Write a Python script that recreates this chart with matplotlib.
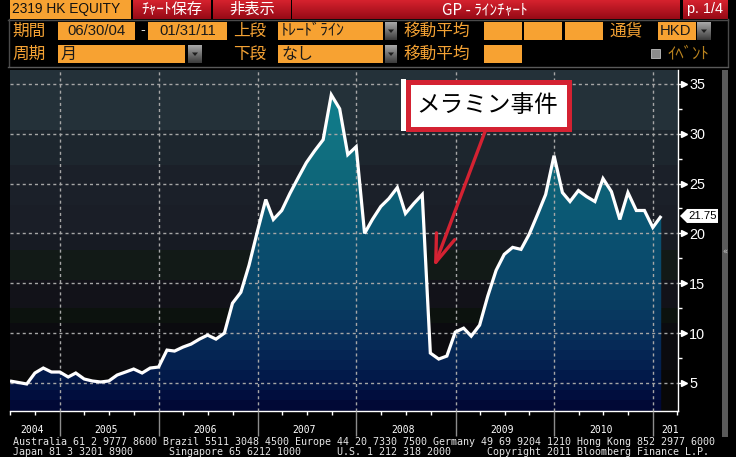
import numpy as np
import pandas as pd
import matplotlib
matplotlib.use('Agg')
import matplotlib.pyplot as plt
import matplotlib.dates as mdates
from matplotlib.patches import Rectangle, Polygon
from matplotlib.colors import to_rgb
from matplotlib import font_manager as fm
from matplotlib import transforms as mtrans

# ---------------- data ----------------
start_date = '2004-06-30'
end_date = '2011-01-31'
prices = [5.2, 5.05, 4.9, 6.0, 6.5, 6.1, 6.1, 5.6, 6.0, 5.4,
          5.2, 5.1, 5.2, 5.8, 6.1, 6.4, 6.0, 6.5, 6.6, 8.3,
          8.2, 8.6, 8.9, 9.4, 9.8, 9.4, 10.0, 13.0, 14.1, 16.8,
          20.2, 23.4, 21.4, 22.3, 24.0, 25.6, 27.1, 28.3, 29.4, 33.9,
          32.5, 27.9, 28.7, 20.0, 21.4, 22.7, 23.5, 24.6, 22.0, 23.0,
          23.9, 8.0, 7.4, 7.7, 10.1, 10.5, 9.7, 10.8, 13.7, 16.3,
          17.9, 18.6, 18.4, 19.9, 21.9, 23.9, 27.8, 24.1, 23.2, 24.3,
          23.7, 23.2, 25.5, 24.2, 21.4, 24.1, 22.3, 22.3, 20.6, 21.75]
years = [2004, 2005, 2006, 2007, 2008, 2009, 2010, 2011]
year_labels = ['2004', '2005', '2006', '2007', '2008', '2009', '2010', '201']
y_ticks = [5, 10, 15, 20, 25, 30, 35]
y_minor = [7.5, 12.5, 17.5, 22.5, 27.5, 32.5]
last_label = '21.75'
callout_text = 'メラミン事件'

ticker = '2319 HK EQUITY'
btn_save = 'ﾁｬｰﾄ保存'
btn_hide = '非表示'
title = 'GP - ﾗｲﾝﾁｬｰﾄ'
page = 'p. 1/4'
date_from = '06/30/04'
date_to = '01/31/11'
upper_val = 'ﾄﾚｰﾄﾞﾗｲﾝ'
lower_val = 'なし'
period_val = '月'
currency = 'HKD'
footer1 = 'Australia 61 2 9777 8600 Brazil 5511 3048 4500 Europe 44 20 7330 7500 Germany 49 69 9204 1210 Hong Kong 852 2977 6000'
footer2 = 'Japan 81 3 3201 8900      Singapore 65 6212 1000      U.S. 1 212 318 2000      Copyright 2011 Bloomberg Finance L.P.'

# ---------------- fonts ----------------
def has_font(name):
    try:
        fm.findfont(fm.FontProperties(family=name), fallback_to_default=False)
        return True
    except Exception:
        return False

if has_font('Liberation Sans Narrow'):
    NARROW, NS = 'Liberation Sans Narrow', 1.0
else:
    NARROW, NS = 'Liberation Sans', 0.86
JP = ['Noto Sans CJK JP', 'DejaVu Sans']
MONO = 'DejaVu Sans Mono'

W, H = 736, 457
ORANGE = '#f7a232'
OTXT = '#f4a234'
RED = '#d42232'

fig = plt.figure(figsize=(W / 100, H / 100), dpi=100, facecolor='black')

# background overlay (pixel coords, y down)
bg = fig.add_axes([0, 0, 1, 1], zorder=0)
bg.set_facecolor('black')
bg.axis('off')

def rect(a, x0, y0, x1, y1, color, z=1, **kw):
    a.add_patch(Rectangle((x0, y0), x1 - x0, y1 - y0, facecolor=color,
                          edgecolor=kw.pop('ec', 'none'), zorder=z, **kw))

def grad(a, x0, y0, x1, y1, c_top, c_bot, z=1):
    t = np.linspace(0, 1, 40)[:, None, None]
    ct = np.array(to_rgb(c_top))[None, None, :]
    cb = np.array(to_rgb(c_bot))[None, None, :]
    img = ct * (1 - t) + cb * t
    img = np.repeat(img, 2, axis=1)
    a.imshow(img, extent=[x0, x1, y1, y0], aspect='auto', origin='upper',
             interpolation='bilinear', zorder=z)

# ---- top bar ----
rect(bg, 10, 0, 131, 18.5, ORANGE)
bg.text(12, 9.5, ticker, family=NARROW, size=11.5 * NS, color='#111111',
        va='center', ha='left', zorder=3)
for (x0, x1) in [(133, 211), (213, 291), (292, 680), (683, 728)]:
    grad(bg, x0, 0, x1, 19, '#d6222e', '#960a16')
bg.text(172, 9.5, btn_save, family=JP, size=11, color='white', va='center', ha='center', zorder=3)
bg.text(252, 9.5, btn_hide, family=JP, size=11, color='white', va='center', ha='center', zorder=3)
bg.text(485, 9.5, title, family=JP, size=11, color='white', va='center', ha='center', zorder=3)
bg.text(705, 9.5, page, family=NARROW, size=12 * NS, color='white', va='center', ha='center', zorder=3)

# ---- control panel frame ----
fc = '#4a4a4a'
bg.plot([8.5, 8.5], [19, 66], color=fc, lw=1, zorder=2)
bg.plot([727.5, 727.5], [19, 66], color=fc, lw=1, zorder=2)
bg.plot([8, 728], [19.5, 19.5], color=fc, lw=1, zorder=2)
bg.plot([8, 728], [66.5, 66.5], color='#5a5a5a', lw=1, zorder=2)

def label(x, y, s, color=OTXT, size=12):
    bg.text(x, y, s, family=JP, size=size, color=color, va='center', ha='left', zorder=3)

def dropdown(x0, y0, x1, y1):
    grad(bg, x0, y0, x1, y1, '#a8a8a8', '#3c3c3c', z=2)
    cx, cy = (x0 + x1) / 2, (y0 + y1) / 2
    bg.add_patch(Polygon([(cx - 3, cy - 1.5), (cx + 3, cy - 1.5), (cx, cy + 2)],
                         closed=True, facecolor='#1e1e1e', edgecolor='none', zorder=3))

r1 = (22, 40)
r2 = (45, 63)
c1 = 31
c2 = 54
label(12, c1, '期間')
rect(bg, 58, r1[0], 135, r1[1], ORANGE)
bg.text(96.5, c1, date_from, family=NARROW, size=12.5 * NS, color='#1a1a1a', va='center', ha='center', zorder=3)
bg.text(143, c1 - 1, '-', family=NARROW, size=12 * NS, color='#dddddd', va='center', ha='center', zorder=3)
rect(bg, 148, r1[0], 227, r1[1], ORANGE)
bg.text(187.5, c1, date_to, family=NARROW, size=12.5 * NS, color='#1a1a1a', va='center', ha='center', zorder=3)
label(233, c1, '上段')
rect(bg, 278, r1[0], 383, r1[1], ORANGE)
bg.text(281, c1, upper_val, family=JP, size=11.5, color='#1a1a1a', va='center', ha='left', zorder=3)
dropdown(385, r1[0], 397, r1[1])
label(403, c1, '移動平均')
for (x0, x1) in [(484, 522), (524, 562), (565, 603)]:
    rect(bg, x0, r1[0], x1, r1[1], ORANGE)
label(610, c1, '通貨')
rect(bg, 658, r1[0], 696, r1[1], ORANGE)
bg.text(660, c1, currency, family=NARROW, size=12.5 * NS, color='#1a1a1a', va='center', ha='left', zorder=3)
dropdown(697, r1[0], 711, r1[1])

label(12, c2, '周期')
rect(bg, 58, r2[0], 185, r2[1], ORANGE)
bg.text(61, c2, period_val, family=JP, size=11.5, color='#1a1a1a', va='center', ha='left', zorder=3)
dropdown(188, r2[0], 202, r2[1])
label(233, c2, '下段')
rect(bg, 278, r2[0], 383, r2[1], ORANGE)
bg.text(281, c2, lower_val, family=JP, size=11.5, color='#1a1a1a', va='center', ha='left', zorder=3)
dropdown(385, r2[0], 397, r2[1])
label(403, c2, '移動平均')
rect(bg, 484, r2[0], 522, r2[1], ORANGE)
rect(bg, 651, 49, 660, 58, '#8c8c8c', ec='#b0b0b0', lw=0.7)
label(667, c2, 'ｲﾍﾞﾝﾄ', color='#b8821e', size=12)

# ---- scrollbar & footer ----
rect(bg, 722, 70, 728, 437, '#5a5a5a')
bg.text(725, 252, '«', family='DejaVu Sans', size=6, color='#c8c8c8', va='center', ha='center', zorder=3)
bg.text(13, 442, footer1, family=MONO, size=7.2, color='#e6e6e6', va='center', ha='left', zorder=3)
bg.text(13, 452, footer2, family=MONO, size=7.2, color='#e6e6e6', va='center', ha='left', zorder=3)

bg.set_xlim(0, W)
bg.set_ylim(H, 0)

# ---------------- main chart ----------------
AX_L, AX_R, AX_T, AX_B = 10, 678, 70, 411
ax = fig.add_axes([AX_L / W, (H - AX_B) / H, (AX_R - AX_L) / W, (AX_B - AX_T) / H], zorder=2)
dates = pd.date_range(start_date, end_date, freq='ME')
xnum = mdates.date2num(dates)
x0 = mdates.date2num(pd.Timestamp('2004-06-30'))
x1 = mdates.date2num(pd.Timestamp('2011-04-03'))
ylo, yhi = 2.19, 36.39
ax.set_xlim(x0, x1)
ax.set_ylim(ylo, yhi)
ax.set_facecolor('black')

nrows = AX_B - AX_T
# background bands (top -> bottom, pixel offsets from top of plot)
bands = [(0, '#243139'), (60, '#1d262e'), (95, '#1b2029'), (135, '#1a1e27'),
         (165, '#171b23'), (180, '#121a17'), (210, '#121219'), (238, '#0c120e'),
         (253, '#0b0b0f'), (300, '#080808')]
bimg = np.zeros((nrows, 2, 3))
for r in range(nrows):
    col = bands[0][1]
    for s, c in bands:
        if r >= s:
            col = c
    bimg[r, :, :] = to_rgb(col)
ax.imshow(bimg, extent=[x0, x1, ylo, yhi], aspect='auto', origin='upper',
          interpolation='nearest', zorder=0)

# area gradient (banded)
stops = [(2, '#010530'), (4, '#021040'), (6, '#031c4c'), (9, '#072c58'),
         (13, '#093e62'), (17, '#0a4a6c'), (21, '#0b5674'), (25, '#0e6478'),
         (29, '#127282'), (33, '#0f7f8e'), (37, '#0e8898')]
sv = np.array([s[0] for s in stops])
sc = np.array([to_rgb(s[1]) for s in stops])
fimg = np.zeros((nrows, 2, 3))
band_px = 10
for r in range(nrows):
    rc = (r // band_px) * band_px + band_px / 2
    v = yhi - rc * (yhi - ylo) / nrows
    fimg[r, :, :] = [np.interp(v, sv, sc[:, k]) for k in range(3)]
fim = ax.imshow(fimg, extent=[x0, x1, ylo, yhi], aspect='auto', origin='upper',
                interpolation='nearest', zorder=1)
verts = [(xnum[0], ylo)] + list(zip(xnum, prices)) + [(xnum[-1], ylo)]
clip = Polygon(verts, closed=True, transform=ax.transData, facecolor='none', edgecolor='none')
ax.add_patch(clip)
fim.set_clip_path(clip)

ax.plot(xnum, prices, color='white', lw=2.3, zorder=4, solid_joinstyle='miter',
        solid_capstyle='butt')

# axes / ticks / grid
for s in ['top', 'left']:
    ax.spines[s].set_visible(False)
ax.spines['right'].set_color('white')
ax.spines['bottom'].set_color('white')
ax.spines['right'].set_linewidth(1)
ax.spines['bottom'].set_linewidth(1)
ax.xaxis.set_major_locator(mdates.YearLocator())
ax.xaxis.set_minor_locator(mdates.MonthLocator(bymonth=[4, 7, 10]))
ax.tick_params(axis='x', which='major', length=18, color='#8c8c8c', width=1, labelbottom=False)
ax.tick_params(axis='x', which='minor', length=3, color='white', width=1)
ax.yaxis.tick_right()
ax.set_yticks(y_ticks)
ax.set_yticks(y_minor, minor=True)
ax.tick_params(axis='y', which='major', length=4, width=1, color='white',
               labelcolor='white', pad=4, labelsize=12 * NS)
ax.tick_params(axis='y', which='minor', length=3, width=1, color='white')
for t in ax.get_yticklabels():
    t.set_fontfamily(NARROW)
ax.grid(True, which='major', color='#a6a6a6', alpha=1.0, linestyle=(0, (2.2, 2.2)), linewidth=1.0)
ax.set_axisbelow(False)
for gl in ax.get_xgridlines() + ax.get_ygridlines():
    gl.set_zorder(2.5)

tri_tr = ax.get_yaxis_transform() + mtrans.ScaledTranslation(6 / 100, 0, fig.dpi_scale_trans)
ax.plot([1] * len(y_ticks), y_ticks, transform=tri_tr, marker='>', ms=5, color='white',
        ls='none', clip_on=False, zorder=5)

# year labels
ylab_y = -(430 - AX_B) / (AX_B - AX_T)
for i, (yr, lab) in enumerate(zip(years, year_labels)):
    ys = mdates.date2num(pd.Timestamp(f'{yr}-01-01'))
    ye = mdates.date2num(pd.Timestamp(f'{yr + 1}-01-01'))
    if i == len(years) - 1:
        tr = ax.get_xaxis_transform() + mtrans.ScaledTranslation(8 / 100, 0, fig.dpi_scale_trans)
        ax.text(ys, ylab_y, lab, transform=tr, family=MONO, size=7, color='white',
                ha='left', va='center', clip_on=False)
    else:
        mid = (max(ys, x0) + min(ye, x1)) / 2
        tr = ax.get_xaxis_transform() + mtrans.ScaledTranslation(-3 / 100, 0, fig.dpi_scale_trans)
        ax.text(mid, ylab_y, lab, transform=tr, family=MONO, size=7, color='white',
                ha='center', va='center', clip_on=False)

# ---------------- foreground overlay ----------------
fg = fig.add_axes([0, 0, 1, 1], zorder=6)
fg.patch.set_alpha(0)
fg.axis('off')
fg.set_xlim(0, W)
fg.set_ylim(H, 0)

# last value tag
disp = ax.transData.transform((xnum[-1], prices[-1]))
yc = H - disp[1]
fg.add_patch(Polygon([(680, yc), (687, yc - 7), (718, yc - 7), (718, yc + 7), (687, yc + 7)],
                     closed=True, facecolor='white', edgecolor='none', zorder=2))
fg.text(702.5, yc + 0.5, last_label, family=NARROW, size=9.5 * NS, color='black',
        ha='center', va='center', zorder=3)

# callout
rect(fg, 401, 79, 406, 131, 'white', z=2)
fg.add_patch(Rectangle((407.5, 81.5), 161, 47, facecolor='white', edgecolor=RED,
                       linewidth=3.6, zorder=2, joinstyle='miter'))
fg.text(487, 105, callout_text, family=JP, size=17, color='black', ha='center',
        va='center', zorder=3)
fg.annotate('', xy=(434, 267), xytext=(486, 129),
            arrowprops=dict(arrowstyle='->,head_length=1.0,head_width=0.35',
                            color=RED, lw=2.4, mutation_scale=20, shrinkA=0, shrinkB=0),
            zorder=3)

fig.savefig('out.png', dpi=100, facecolor='black')
